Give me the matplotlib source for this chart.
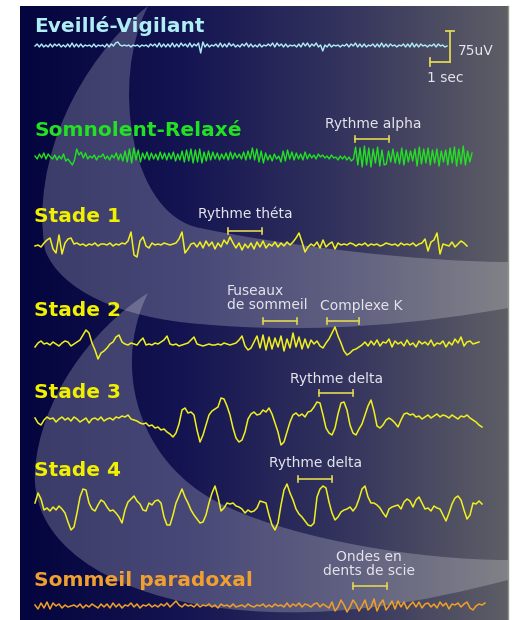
import numpy as np
import matplotlib
matplotlib.use("Agg")
import matplotlib.pyplot as plt
from matplotlib.path import Path
from matplotlib.patches import PathPatch
from matplotlib.colors import LinearSegmentedColormap

# EEG traces, amplitude in pixels (up = positive), evenly spaced along each line
eveil = [0,2,-1,2,-1,1,-1,2,-1,2,0,2,-1,1,-1,2,-1,3,-1,2,-1,2,-1,1,0,1,-1,2,-1,1,
         0,1,-1,2,-1,2,0,3,4,1,0,1,0,1,-1,1,0,1,-1,1,0,1,-1,2,0,2,-1,3,-1,2,
         -1,2,-1,3,-1,2,-1,3,0,2,-1,3,-1,2,0,3,-7,4,-1,2,-1,1,0,2,-1,3,-1,2,-1,3,
         0,2,-1,1,-1,2,0,3,-1,2,-1,1,-1,2,-1,1,0,2,0,3,-1,3,0,2,-1,2,-1,1,0,1,
         -1,2,-1,3,0,3,-1,2,0,3,-1,1,-5,1,-1,2,-1,1,0,1,-1,1,0,2,-1,2,0,3,-1,2,
         -1,2,-1,1,0,2,-1,2,-1,3,-1,2,-1,2,0,1,-1,1,0,2,-1,2,-1,3,-1,2,-1,2,0,1,
         -1,1,0,2,-1,2,0,1,-1,0]

somnolent = [1,-2,3,-1,4,-2,3,0,-2,2,-3,1,-2,3,-4,-2,-5,-8,-3,8,
             2,5,-1,4,-2,1,-1,2,-3,1,0,3,-2,1,-3,2,-1,4,-3,3,
             -4,6,-5,8,-6,9,-3,7,-5,4,-2,5,-3,4,-2,3,-3,5,-2,4,
             -3,4,-2,5,-4,3,-3,6,-5,7,-4,8,-6,7,-5,8,-6,5,-4,6,
             -3,5,-2,4,-3,3,-2,4,-3,5,-2,4,-1,3,-2,5,-3,6,-2,9,
             -3,8,-5,6,-6,4,-3,2,-4,3,-2,1,-5,6,-4,7,-2,5,-3,4,
             -2,3,-3,5,-2,3,-1,2,-2,3,0,2,-1,1,-2,2,-1,0,-3,1,
             -2,1,-3,0,-4,-2,10,-8,9,-10,11,-8,9,-10,8,-6,10,-9,7,-8,
             -7,6,-5,8,-6,5,-7,9,-8,7,-5,6,-4,8,-9,10,-7,8,-6,9,
             -8,7,-6,8,-9,6,-5,7,-8,9,-6,10,-9,8,-7,11,-8,6,-5,4]

stade1 = [-1,0,-2,2,5,7,-4,-8,10,-9,2,6,7,1,
          2,0,1,-1,1,0,2,-1,1,1,0,2,-1,1,0,2,1,
          4,13,-10,-12,4,8,-1,-3,
          2,0,1,0,2,1,0,1,2,
          6,13,-8,-4,1,
          2,-2,3,-3,4,-1,3,-4,2,-2,5,1,
          8,2,-3,2,-5,1,
          -3,2,-4,3,-2,4,-3,1,-1,3,-2,2,-1,3,0,
          3,7,12,3,-7,-2,
          1,-1,3,-3,5,-2,1,3,-4,2,0,1,
          0,2,1,-1,1,0,2,-1,1,0,1,-1,0,2,1,0,1,-1,2,0,1,0,2,-1,1,2,
          6,-6,3,5,12,-9,1,
          0,-1,3,-2,1,4,2,-1]

stade2 = [-2,2,4,
          1,2,0,3,1,-1,2,
          4,3,-1,1,3,5,10,15,12,2,-5,-14,-8,-6,-3,1,3,8,10,3,
          1,0,2,1,0,4,7,
          0,1,0,2,1,3,5,9,
          1,0,1,-1,0,1,2,5,
          8,
          1,0,-1,0,1,0,0,1,0,2,1,0,1,2,
          5,9,-1,-5,-3,3,9,
          -3,10,-5,8,-4,7,-2,9,-6,6,-3,12,-2,8,-4,6,-3,5,
          1,4,-1,-3,2,6,12,18,9,2,-6,-10,-8,-5,-4,-2,
          0,3,-1,4,0,5,-1,3,2,6,-2,4,1,3,-1,5,0,2,-2,4,
          1,3,0,5,-1,2,1,4,-2,3,0,6,2,8,-1,3,4,1,2,3]

stade3 = [2,-3,-5,0,3,1,2,-2,1,3,
          0,2,-1,3,1,-2,0,2,-3,1,2,0,3,-1,1,2,0,3,
          2,4,3,5,1,0,-1,-3,
          -4,-3,-6,-5,-8,-7,-10,-9,-12,-14,-17,
          -13,-4,10,12,7,8,5,-10,-22,-15,-5,5,9,11,13,22,21,14,5,-8,
          -18,-22,-20,-12,1,6,8,5,6,10,8,12,6,-3,-12,-25,-22,-12,-2,5,
          7,4,6,3,8,9,13,18,17,5,-8,-13,-15,-8,6,17,18,10,-5,-13,
          -15,-9,-4,5,14,20,9,-6,-8,-5,0,2,0,-3,-7,0,6,7,
          5,6,3,4,1,3,5,2,4,6,3,5,4,2,5,3,1,4,3,5,2,0,-2,-5,-7]

stade4 = [2,12,6,-5,-3,-6,-2,-5,-1,-4,-8,-17,-25,-22,-8,8,16,15,2,-4,
          -6,0,5,3,-2,-6,-5,-8,-12,-18,-5,3,6,9,4,1,-5,-6,2,0,
          4,5,2,-12,-20,-20,-10,2,9,16,8,2,-5,-10,-14,-18,-17,-10,2,12,
          19,8,-6,-3,2,1,2,-1,-2,-4,-8,-5,-7,-6,-3,4,3,2,-10,-20,
          -25,-18,0,15,21,12,5,-4,-9,-12,-16,-20,-21,-18,8,16,19,17,3,-8,
          -15,-12,-7,-5,-4,-2,-6,-2,6,16,19,8,2,2,0,-3,-8,-12,-4,-2,
          -1,0,-4,3,6,4,-2,5,8,2,-4,-3,-6,-1,-3,-4,-10,-16,-8,1,
          7,9,5,-5,-14,-10,2,1,4,1]

paradoxal = [1,-3,3,-2,4,-3,3,0,2,-2,1,-1,0,1,-1,2,-2,1,-1,2,
             0,-2,2,-1,2,-2,3,-1,2,-2,1,0,3,-1,2,-2,1,0,2,-1,
             1,-1,2,0,3,-1,2,5,1,-1,2,0,1,-1,2,-1,1,0,2,-1,
             1,-2,2,0,1,-1,2,-1,0,1,-1,2,0,-1,1,0,2,-1,1,-1,
             2,0,1,-1,3,-1,2,0,3,-1,2,1,-1,2,3,-1,2,0,-2,4,
             -5,-1,6,1,-6,-1,6,2,-5,0,6,-4,-1,7,-5,2,6,-4,0,5,
             -3,5,-1,4,-3,1,4,-1,4,-2,2,3,-1,2,-2,4,0,3,-3,2,
             1,3,-1,2,4,-2,-4,0,2,1,3]

titles = ["Eveillé-Vigilant", "Somnolent-Relaxé", "Stade 1", "Stade 2",
          "Stade 3", "Stade 4", "Sommeil paradoxal"]
title_y = [26, 130, 217, 310, 392, 471, 580]
title_colors = ["#b0eef6", "#22e022", "#f0f000", "#f0f000", "#f0f000", "#f0f000", "#f0a030"]

# (values, x start, x end, baseline, colour, width)
traces = [
    (eveil, 35, 447, 46, "#b0eef6", 1.0),
    (somnolent, 35, 472, 157, "#22e022", 1.0),
    (stade1, 35, 467, 245, "#f0f020", 1.1),
    (stade2, 35, 479, 345, "#f0f020", 1.1),
    (stade3, 35, 482, 420, "#f0f020", 1.1),
    (stade4, 35, 482, 505, "#f0f020", 1.1),
    (paradoxal, 35, 485, 606, "#f0a028", 1.1),
]

# annotations: text lines, x, y, alignment ; bars: x0, x1, y
labels = [("Rythme alpha", 325, 124, "left"),
          ("Rythme théta", 198, 214, "left"),
          ("Fuseaux\nde sommeil", 227, 298, "left"),
          ("Complexe K", 320, 306, "left"),
          ("Rythme delta", 290, 379, "left"),
          ("Rythme delta", 269, 463, "left"),
          ("Ondes en\ndents de scie", 369, 564, "center")]
bars = [(355, 389, 139), (228, 262, 231), (263, 297, 321), (327, 359, 321),
        (319, 353, 393), (298, 332, 479), (353, 387, 586)]

fig = plt.figure(figsize=(5.13, 6.2), dpi=100)
ax = fig.add_axes([0, 0, 1, 1])
ax.set_xlim(0, 513)
ax.set_ylim(620, 0)
ax.axis("off")

# background gradient
cmap = LinearSegmentedColormap.from_list("bg", ["#04043e", "#141452", "#34345e", "#5e5e66"])
grad = np.linspace(0, 1, 256).reshape(1, -1)
ax.imshow(grad, cmap=cmap, extent=(20, 508, 620, 6), aspect="auto", zorder=0)
ax.plot([507.5, 507.5], [6, 620], color="#8c9488", lw=1, zorder=1)

# swirl arrows
C = Path.CURVE4
band1 = Path([(148, 6), (80, 60), (30, 160), (45, 250),
              (60, 290), (120, 318), (200, 324),
              (320, 335), (430, 322), (508, 308),
              (508, 262),
              (420, 262), (280, 245), (200, 228),
              (130, 215), (110, 80), (148, 6)],
             [Path.MOVETO, C, C, C, C, C, C, C, C, C, Path.LINETO, C, C, C, C, C, C])
band2 = Path([(148, 293), (90, 330), (40, 400), (35, 470),
              (30, 545), (110, 590), (200, 605),
              (320, 625), (430, 600), (508, 580),
              (508, 560),
              (420, 560), (300, 540), (230, 508),
              (140, 470), (110, 370), (148, 293)],
             [Path.MOVETO, C, C, C, C, C, C, C, C, C, Path.LINETO, C, C, C, C, C, C])
for b in (band1, band2):
    ax.add_patch(PathPatch(b, facecolor="white", edgecolor="none", alpha=0.22, zorder=1))

for vals, x0, x1, base, col, lw in traces:
    xs = np.linspace(x0, x1, len(vals))
    ax.plot(xs, base - np.array(vals), color=col, lw=lw, zorder=3)

for t, y, c in zip(titles, title_y, title_colors):
    ax.text(34, y, t, color=c, fontsize=14.5, fontweight="bold", va="center", ha="left", zorder=4)

for s, x, y, ha in labels:
    ax.text(x, y, s, color="#e4e4ec", fontsize=10, va="center", ha=ha,
            linespacing=1.0, zorder=4)

bar_col = "#e0d650"
for x0, x1, y in bars:
    ax.plot([x0, x1], [y, y], color=bar_col, lw=1.2, zorder=4)
    ax.plot([x0, x0], [y - 3, y + 3], color=bar_col, lw=1.2, zorder=4)
    ax.plot([x1, x1], [y - 3, y + 3], color=bar_col, lw=1.2, zorder=4)

# scale bar 75uV / 1 sec
ax.plot([450, 450], [31, 62], color=bar_col, lw=1.3, zorder=4)
ax.plot([446, 454], [31, 31], color=bar_col, lw=1.3, zorder=4)
ax.plot([430, 450], [62, 62], color=bar_col, lw=1.3, zorder=4)
ax.plot([430, 430], [58, 66], color=bar_col, lw=1.3, zorder=4)
ax.text(458, 51, "75uV", color="#e4e4ec", fontsize=10, va="center", ha="left", zorder=4)
ax.text(427, 78, "1 sec", color="#e4e4ec", fontsize=10, va="center", ha="left", zorder=4)

fig.savefig("out.png", dpi=100, facecolor="white")
